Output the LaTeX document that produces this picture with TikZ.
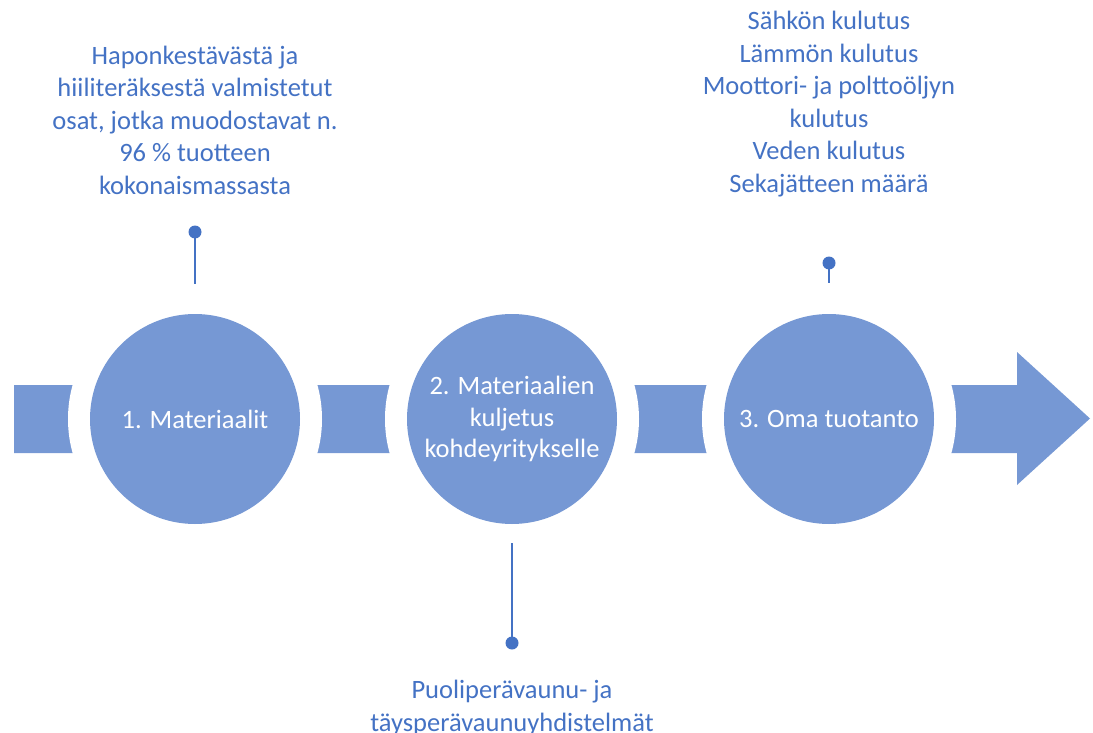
\documentclass[tikz,border=0pt]{standalone}
\usepackage{fontspec}
\setmainfont{Carlito}
\definecolor{bandblue}{HTML}{7698D4}
\definecolor{pinblue}{HTML}{4472C4}
\begin{document}
\begin{tikzpicture}[x=1pt, y=-1pt,
    stage/.style = {circle, fill = bandblue, minimum size = 210pt, inner sep = 0pt,
                    text = white, align = center, font = \fontsize{26.5}{31.5}\selectfont},
    note/.style = {text = pinblue, align = center, font = \fontsize{26.5}{32.5}\selectfont},
    pindot/.style = {circle, fill = pinblue, minimum size = 13pt, inner sep = 0pt},
    pinline/.style = {draw = pinblue, line width = 2pt}]
    \useasboundingbox (0,0) rectangle (1093,733);
    % band and arrow head
    \fill[bandblue] (14,385) -- (1017,385) -- (1017,352) -- (1090,418.5)
        -- (1017,485) -- (1017,453) -- (14,453) -- cycle;
    \foreach \x in {195,512,829}
        \fill[white] (\x,419) circle (127);
    \node [stage] (m1) at (195,419) {1. Materiaalit};
    \node [stage] (m2) at (512,419) {2. Materiaalien\\kuljetus\\kohdeyritykselle};
    \node [stage] (m3) at (829,419) {3. Oma tuotanto};
    % pins
    \node [pindot] (d1) at (195,232) {};
    \coordinate (e1) at (195,284);
    \draw [pinline] (d1.center) -- (e1);
    \node [pindot] (d2) at (512,643) {};
    \coordinate (e2) at (512,543);
    \draw [pinline] (d2.center) -- (e2);
    \node [pindot] (d3) at (829,263) {};
    \coordinate (e3) at (829,283);
    \draw [pinline] (d3.center) -- (e3);
    % notes
    \node [note] (t1) at (195,120) {Haponkestävästä ja\\hiiliteräksestä valmistetut\\osat, jotka muodostavat n.\\96 \% tuotteen\\kokonaismassasta};
    \node [note] (t3) at (829,104) {Sähkön kulutus\\Lämmön kulutus\\Moottori- ja polttoöljyn\\kulutus\\Veden kulutus\\Sekajätteen määrä};
    \node [note] (t2) at (512,708) {Puoliperävaunu- ja\\täysperävaunuyhdistelmät};
\end{tikzpicture}
\end{document}
